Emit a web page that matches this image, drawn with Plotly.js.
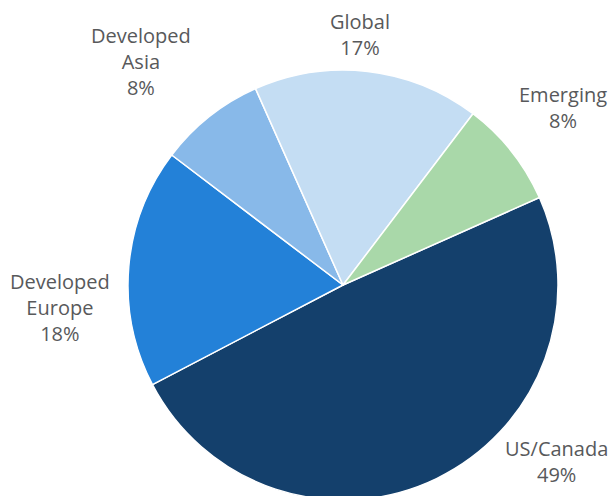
<!DOCTYPE html>
<html>
<head>
<meta charset="utf-8">
<script src="https://cdn.plot.ly/plotly-3.0.1.min.js"></script>
<style>
  html, body { margin: 0; padding: 0; overflow: hidden; background: #ffffff; }
  #chart { width: 613px; height: 500px; }
</style>
</head>
<body>
<div id="chart"></div>
<script>
// Data
const categories = ['US/Canada', 'Developed Europe', 'Developed Asia', 'Global', 'Emerging'];
const labelLines = ['US/Canada', 'Developed<br>Europe', 'Developed<br>Asia', 'Global', 'Emerging'];
const shares = [49, 18, 8, 17, 8];
const sliceColors = ['#14406c', '#2381d8', '#88b9e9', '#c4ddf3', '#a9d8a9'];

// Label placement (pixel centers in the 613x500 figure)
const labelPos = [
  [556, 461],
  [60, 307],
  [141, 61],
  [360, 34],
  [563, 108]
];

const W = 613, H = 500;
const M = {l: 128, r: 55, t: 70, b: 0};
const pw = W - M.l - M.r, ph = H - M.t - M.b;

const annotations = categories.map((c, i) => ({
  xref: 'paper', yref: 'paper',
  x: (labelPos[i][0] - M.l) / pw,
  y: (H - M.b - labelPos[i][1]) / ph,
  xanchor: 'center', yanchor: 'middle',
  text: labelLines[i] + '<br>' + shares[i] + '%',
  showarrow: false,
  align: 'center',
  font: {family: 'Open Sans, sans-serif', size: 20, color: '#58595b'}
}));

const trace = {
  type: 'pie',
  labels: categories,
  values: shares,
  sort: false,
  direction: 'clockwise',
  rotation: 66,
  textinfo: 'none',
  hoverinfo: 'none',
  marker: {colors: sliceColors, line: {color: '#ffffff', width: 1.5}}
};

const layout = {
  width: W, height: H,
  margin: M,
  showlegend: false,
  paper_bgcolor: '#ffffff',
  plot_bgcolor: '#ffffff',
  annotations: annotations
};

Plotly.newPlot('chart', [trace], layout, {staticPlot: true, displayModeBar: false});
</script>
</body>
</html>
